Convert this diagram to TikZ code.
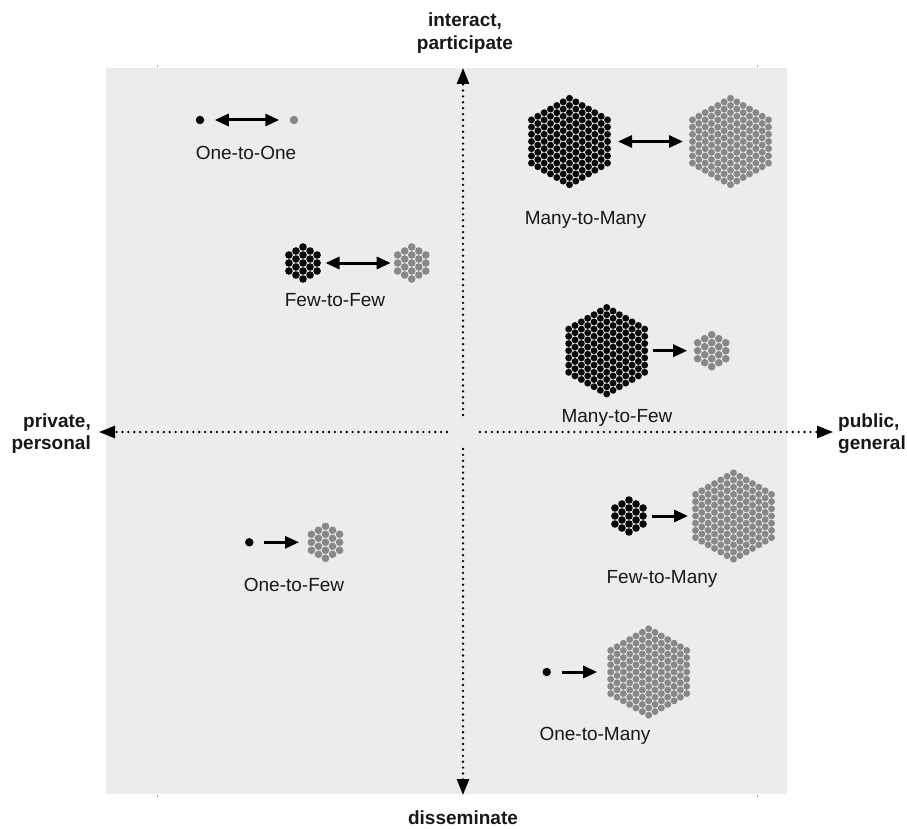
\documentclass[tikz,border=0pt]{standalone}
\usepackage{fontspec}
\setmainfont{Liberation Sans}
\usetikzlibrary{arrows.meta}
\definecolor{panel}{RGB}{235,236,236}
\definecolor{dotgray}{RGB}{136,136,136}
\definecolor{dotblack}{RGB}{8,8,8}
\definecolor{ink}{RGB}{24,24,24}
\definecolor{cropred}{RGB}{235,140,140}

% #1 cx, #2 cy, #3 side (dots), #4 spacing, #5 colour, #6 dot radius
\newcommand{\hexdots}[6]{%
  \pgfmathtruncatemacro{\hxN}{#3-1}%
  \foreach \hxi in {-\hxN,...,\hxN}{%
    \pgfmathtruncatemacro{\hxM}{2*#3-2-abs(\hxi)}%
    \foreach \hxj in {0,...,\hxM}{%
      \fill[#5] ({#1+(\hxi)*#4*0.88},{#2+(\hxj-\hxM/2)*#4}) circle[radius=#6];
    }%
  }%
}

\begin{document}
\begin{tikzpicture}[x=1pt,y=-1pt,
  lbl/.style={font=\fontsize{19}{22}\selectfont, text=ink, anchor=base, inner sep=0pt},
  axlbl/.style={font=\fontsize{19}{22}\selectfont\bfseries, text=ink, inner sep=0pt},
  axisline/.style={line width=2.6pt, dash pattern=on 0pt off 5.9pt, line cap=round,
     -{Triangle[length=16pt,width=12pt]}},
  flow/.style={line width=3pt, -{Triangle[length=14pt,width=12pt]}},
  flowtwo/.style={line width=3pt, {Triangle[length=14pt,width=12pt]}-{Triangle[length=14pt,width=12pt]}},
  bighex/.style={minimum width=83pt, minimum height=93pt, inner sep=0pt},
  smallhex/.style={minimum width=36pt, minimum height=39pt, inner sep=0pt},
  single/.style={circle, minimum size=8.5pt, inner sep=0pt},
]
\useasboundingbox (0,0) rectangle (907,829);

% background panel
\fill[panel] (106,68) rectangle (787,794);
% faint crop marks
\foreach \cx in {157,757}{
  \draw[cropred, line width=0.8pt] (\cx,65) -- (\cx,67.5);
  \draw[cropred, line width=0.8pt] (\cx,794.5) -- (\cx,797);
}

% axes
\coordinate (O) at (463,432);
\coordinate (upS) at (463,415);
\coordinate (upE) at (463,68);
\coordinate (dnS) at (463,449);
\coordinate (dnE) at (463,795);
\coordinate (lfS) at (447,432);
\coordinate (lfE) at (99,432);
\coordinate (rtS) at (480,432);
\coordinate (rtE) at (833,432);
\draw[axisline] (upS) -- (upE);
\draw[axisline] (dnS) -- (dnE);
\draw[axisline] (lfS) -- (lfE);
\draw[axisline] (rtS) -- (rtE);

% axis labels
\node[axlbl, anchor=base] (intA) at (465,26.7) {interact,};
\node[axlbl, anchor=base] (intB) at (465,49.3) {participate};
\node[axlbl, anchor=base] (dis) at (463,824) {disseminate};
\node[axlbl, anchor=base east] (privA) at (91,427) {private,};
\node[axlbl, anchor=base east] (privB) at (91,449.5) {personal};
\node[axlbl, anchor=base west] (pubA) at (838,427) {public,};
\node[axlbl, anchor=base west] (pubB) at (838,449.5) {general};

% One-to-One
\node[single, fill=dotblack, outer sep=10.5pt] (oo1) at (200,120) {};
\node[single, fill=dotgray, outer sep=10.5pt] (oo2) at (294,120) {};
\draw[flowtwo] (oo1) -- (oo2);
\node[lbl] (ooL) at (246,160) {One-to-One};

% Few-to-Few
\node[smallhex, outer sep=4.5pt] (ff1) at (303,263) {};
\node[smallhex, outer sep=3pt] (ff2) at (411.7,263) {};
\hexdots{303}{263}{3}{8}{dotblack}{3.8pt}
\hexdots{411.7}{263}{3}{8}{dotgray}{3.8pt}
\draw[flowtwo] (ff1) -- (ff2);
\node[lbl] (ffL) at (335,306.7) {Few-to-Few};

% Many-to-Many
\node[bighex, outer sep=7pt] (mm1) at (569.5,141.5) {};
\node[bighex, outer sep=6pt] (mm2) at (730.5,141.5) {};
\hexdots{569.5}{141.5}{7}{7.2}{dotblack}{3.45pt}
\hexdots{730.5}{141.5}{7}{7.2}{dotgray}{3.45pt}
\draw[flowtwo] (mm1) -- (mm2);
\node[lbl] (mmL) at (585.5,224.3) {Many-to-Many};

% Many-to-Few
\node[bighex, outer sep=5pt] (mf1) at (606.7,350.7) {};
\node[smallhex, outer sep=6.5pt] (mf2) at (711.7,350.7) {};
\hexdots{606.7}{350.7}{7}{7.2}{dotblack}{3.45pt}
\hexdots{711.7}{350.7}{3}{8}{dotgray}{3.8pt}
\draw[flow] (mf1) -- (mf2);
\node[lbl] (mfL) at (617,422) {Many-to-Few};

% Few-to-Many
\node[smallhex, outer sep=5pt] (fm1) at (629,516) {};
\node[bighex, outer sep=4pt] (fm2) at (733.5,516) {};
\hexdots{629}{516}{3}{8}{dotblack}{3.8pt}
\hexdots{733.5}{516}{7}{7.2}{dotgray}{3.45pt}
\draw[flow] (fm1) -- (fm2);
\node[lbl] (fmL) at (662,583) {Few-to-Many};

% One-to-Few
\node[single, fill=dotblack, outer sep=10.5pt] (of1) at (249.3,542.3) {};
\node[smallhex, outer sep=8.5pt] (of2) at (325.5,542.3) {};
\hexdots{325.5}{542.3}{3}{8}{dotgray}{3.8pt}
\draw[flow] (of1) -- (of2);
\node[lbl] (ofL) at (294,591.7) {One-to-Few};

% One-to-Many
\node[single, fill=dotblack, outer sep=11pt] (om1) at (546.7,672) {};
\node[bighex, outer sep=10pt] (om2) at (648.7,672) {};
\hexdots{648.7}{672}{7}{7.2}{dotgray}{3.45pt}
\draw[flow] (om1) -- (om2);
\node[lbl] (omL) at (595,740) {One-to-Many};
\end{tikzpicture}
\end{document}
